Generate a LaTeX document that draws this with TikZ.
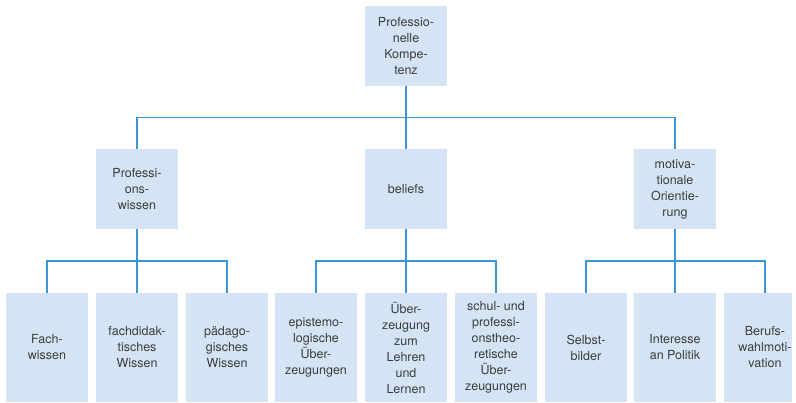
\documentclass[tikz,border=0pt]{standalone}
\usepackage{fontspec}
\setmainfont{TeX Gyre Heros}
\usepackage{tikz}
\usetikzlibrary{positioning}
\definecolor{boxblue}{HTML}{D4E4F5}
\definecolor{lineblue}{HTML}{3A95D5}
\definecolor{textgray}{HTML}{3C3C3C}
\tikzstyle{box}=[fill=boxblue, text=textgray, align=center, inner sep=0pt, minimum width=82pt, minimum height=80pt, font=\fontsize{12.5}{16}\selectfont]
\tikzstyle{tall}=[box, minimum height=109pt]
\tikzstyle{line}=[draw=lineblue, line width=1.5pt]

\begin{document}
\begin{tikzpicture}[x=1pt, y=-1pt]
    \useasboundingbox (0,0) rectangle (796,403);
    \clip (0,0) rectangle (792,403);

    \draw node at (406, 46) [box] (pk) {Professio-\\nelle\\Kompe-\\tenz};

    \draw node at (137, 189) [box] (pw) {Professi-\\ons-\\wissen};
    \draw node at (406, 189) [box] (bel) {beliefs};
    \draw node at (675, 189) [box] (mo) {motiva-\\tionale\\Orientie-\\rung};

    \draw node at (47, 347.5) [tall] (fw) {Fach-\\wissen};
    \draw node at (137, 347.5) [tall] (fdw) {fachdidak-\\tisches\\Wissen};
    \draw node at (227, 347.5) [tall] (pgw) {pädago-\\gisches\\Wissen};

    \draw node at (316, 347.5) [tall] (epi) {epistemo-\\logische\\Über-\\zeugungen};
    \draw node at (406, 347.5) [tall] (uel) {Über-\\zeugung\\zum\\Lehren\\und\\Lernen};
    \draw node at (496, 347.5) [tall] (spu) {schul- und\\professi-\\onstheo-\\retische\\Über-\\zeugungen};

    \draw node at (586, 347.5) [tall] (sb) {Selbst-\\bilder};
    \draw node at (675, 347.5) [tall] (ip) {Interesse\\an Politik};
    \draw node at (765, 347.5) [tall] (bwm) {Berufs-\\wahlmoti-\\vation};

    % branch points
    \coordinate (top) at (406, 117.5);
    \coordinate (left) at (137, 261);
    \coordinate (mid) at (406, 261);
    \coordinate (right) at (675, 261);

    \draw [line] (pk) -- (top);
    \draw [line] (top) -| (pw);
    \draw [line] (top) -- (bel);
    \draw [line] (top) -| (mo);

    \draw [line] (pw) -- (left);
    \draw [line] (left) -| (fw);
    \draw [line] (left) -- (fdw);
    \draw [line] (left) -| (pgw);

    \draw [line] (bel) -- (mid);
    \draw [line] (mid) -| (epi);
    \draw [line] (mid) -- (uel);
    \draw [line] (mid) -| (spu);

    \draw [line] (mo) -- (right);
    \draw [line] (right) -| (sb);
    \draw [line] (right) -- (ip);
    \draw [line] (right) -| (bwm);
\end{tikzpicture}
\end{document}
